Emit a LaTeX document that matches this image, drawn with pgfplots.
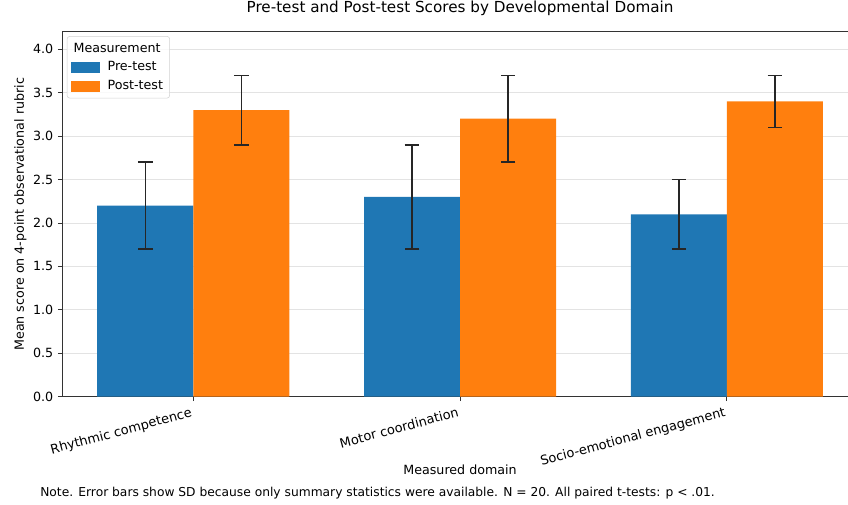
\documentclass[border=0pt]{standalone}
\usepackage{pgfplots}
\pgfplotsset{compat=1.18}
\usepackage{fontspec}
\setmainfont{DejaVu Sans}
\definecolor{tabblue}{HTML}{1F77B4}
\definecolor{taborange}{HTML}{FF7F0E}
\pgfplotstableread{
x y e
-0.18 2.2 0.5
0.82 2.3 0.6
1.82 2.1 0.4
}\pretable
\pgfplotstableread{
x y e
0.18 3.3 0.4
1.18 3.2 0.5
2.18 3.4 0.3
}\posttable
\begin{document}
\begin{tikzpicture}
\path[use as bounding box] (0,0) rectangle (636pt,378pt);
\begin{axis}[
  name=ax,
  at={(46.9pt,80.5pt)}, anchor=south west,
  scale only axis, width=596.3pt, height=273.6pt,
  xmin=-0.49, xmax=2.49, ymin=0, ymax=4.2,
  ybar, bar width=0.36, bar shift=0pt,
  xtick={0,1,2},
  xticklabels={Rhythmic competence, Motor coordination, Socio-emotional engagement},
  xticklabel style={rotate=15, anchor=north east, font=\fontsize{9.7}{11}\selectfont},
  ytick={0,0.5,1,1.5,2,2.5,3,3.5,4},
  yticklabel style={font=\fontsize{9.5}{11}\selectfont, /pgf/number format/.cd, fixed, fixed zerofill, precision=1, assume math mode=true},
  xtick pos=bottom, ytick pos=left,
  tick align=outside, major tick length=3.4pt,
  major tick style={black!80, line width=0.6pt},
  axis line style={black!80, line width=0.6pt},
  ymajorgrids, major grid style={gray!22, line width=0.6pt},
  xlabel={Measured domain},
  ylabel={Mean score on 4-point observational rubric},
  xlabel style={at={(axis description cs:0.5,-0.201)}, anchor=center, font=\fontsize{9.5}{11}\selectfont},
  ylabel style={at={(axis description cs:-0.053,0.5)}, anchor=center, rotate=0, font=\fontsize{9.5}{11}\selectfont},
  title={Pre-test and Post-test Scores by Developmental Domain},
  title style={at={(axis description cs:0.5,1.043)}, anchor=center, font=\fontsize{11.4}{13}\selectfont},
  legend cell align=left,
  legend style={at={(rel axis cs:0,1)}, anchor=north west, xshift=3.2pt, yshift=-3.2pt,
    draw=gray!35, rounded corners=2pt, fill=white, fill opacity=0.8, text opacity=1,
    font=\fontsize{9.5}{11}\selectfont, row sep=1.5pt, inner xsep=3pt, inner ysep=3pt},
]
\addplot[fill=tabblue, draw=none, forget plot,
  error bars/.cd, y dir=both, y explicit,
  error bar style={line width=1.1pt, black!85},
  error mark options={rotate=90, mark size=5.5pt, line width=1.1pt, black!85}]
  table[x=x, y=y, y error=e] {\pretable};
\addplot[fill=taborange, draw=none, forget plot,
  error bars/.cd, y dir=both, y explicit,
  error bar style={line width=1.1pt, black!85},
  error mark options={rotate=90, mark size=5.5pt, line width=1.1pt, black!85}]
  table[x=x, y=y, y error=e] {\posttable};
\addlegendimage{empty legend}
\addlegendentry{\hspace*{-25.5pt}Measurement}
\addlegendimage{legend image code/.code={\fill[tabblue, fill opacity=1, rounded corners=0pt] (0pt,-3.75pt) rectangle (21pt,3.75pt); \path (25pt,0pt);}}
\addlegendentry{Pre-test}
\addlegendimage{legend image code/.code={\fill[taborange, fill opacity=1, rounded corners=0pt] (0pt,-3.75pt) rectangle (21pt,3.75pt); \path (25pt,0pt);}}
\addlegendentry{Post-test}
\end{axis}
\draw[black!80, line width=0.6pt] (ax.north west) -- (ax.north east);
\node[anchor=west, inner sep=0pt, font=\fontsize{9.2}{11}\selectfont] at (30pt,8.25pt) {Note. Error bars show SD because only summary statistics were available. N = 20. All paired t-tests: p < .01.};
\end{tikzpicture}
\end{document}
